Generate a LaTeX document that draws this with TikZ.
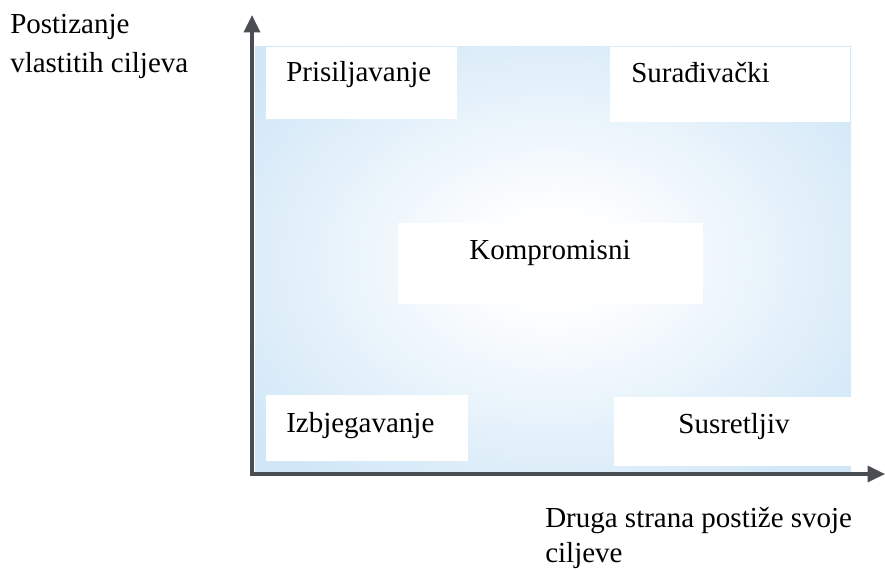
\documentclass[tikz,border=0pt]{standalone}
\usepackage{fontspec}
\setmainfont{Liberation Serif}
\usetikzlibrary{arrows.meta}
\definecolor{qblue}{RGB}{209,231,247}
\definecolor{axisgray}{RGB}{74,78,83}
\pgfdeclareradialshading{quadglow}{\pgfpoint{0bp}{0bp}}{color(0bp)=(white); color(5bp)=(white); color(32bp)=(qblue); color(50bp)=(qblue)}
\tikzset{axtip/.tip={Triangle[length=13pt,width=12pt]}}
\begin{document}
\begin{tikzpicture}[x=0.75pt,y=-0.75pt,
  lbl/.style={font=\fontsize{21.75}{29.55}\selectfont, inner sep=0pt},
  wbox/.style={fill=white},
  axis/.style={draw=axisgray, line width=2.6pt, line join=miter}]
\useasboundingbox (0,0) rectangle (885,570);
% background glow
\shade[shading=quadglow] (255,47) rectangle (851,473);
% white boxes
\fill[wbox] (266,47) rectangle (457,119);
\fill[wbox] (610,47) rectangle (850,122);
\fill[wbox] (398,223) rectangle (703,304);
\fill[wbox] (266,395) rectangle (468,461);
\fill[wbox] (614,397) rectangle (853,466);
% labels in boxes
\node[lbl, anchor=base west] (prisil) at (286,82) {Prisiljavanje};
\node[lbl, anchor=base west] (surad) at (631,83) {Surađivački};
\node[lbl, anchor=base] (kompro) at (550,260) {Kompromisni};
\node[lbl, anchor=base west] (izbj) at (286,432) {Izbjegavanje};
\node[lbl, anchor=base] (susret) at (734,433) {Susretljiv};
% axis labels (base anchor = last line)
\node[lbl, anchor=base west, align=left] (ylab) at (10,73) {Postizanje\\vlastitih ciljeva};
\node[lbl, anchor=base west, align=left, font=\fontsize{21.75}{26.25}\selectfont] (xlab) at (545,562) {Druga strana postiže svoje\\ciljeve};
% axes
\coordinate (origin) at (252,474);
\coordinate (ytip) at (252,15);
\coordinate (xtip) at (885,474);
\draw[axis, axtip-axtip] (ytip) -- (origin) -- (xtip);
\end{tikzpicture}
\end{document}
